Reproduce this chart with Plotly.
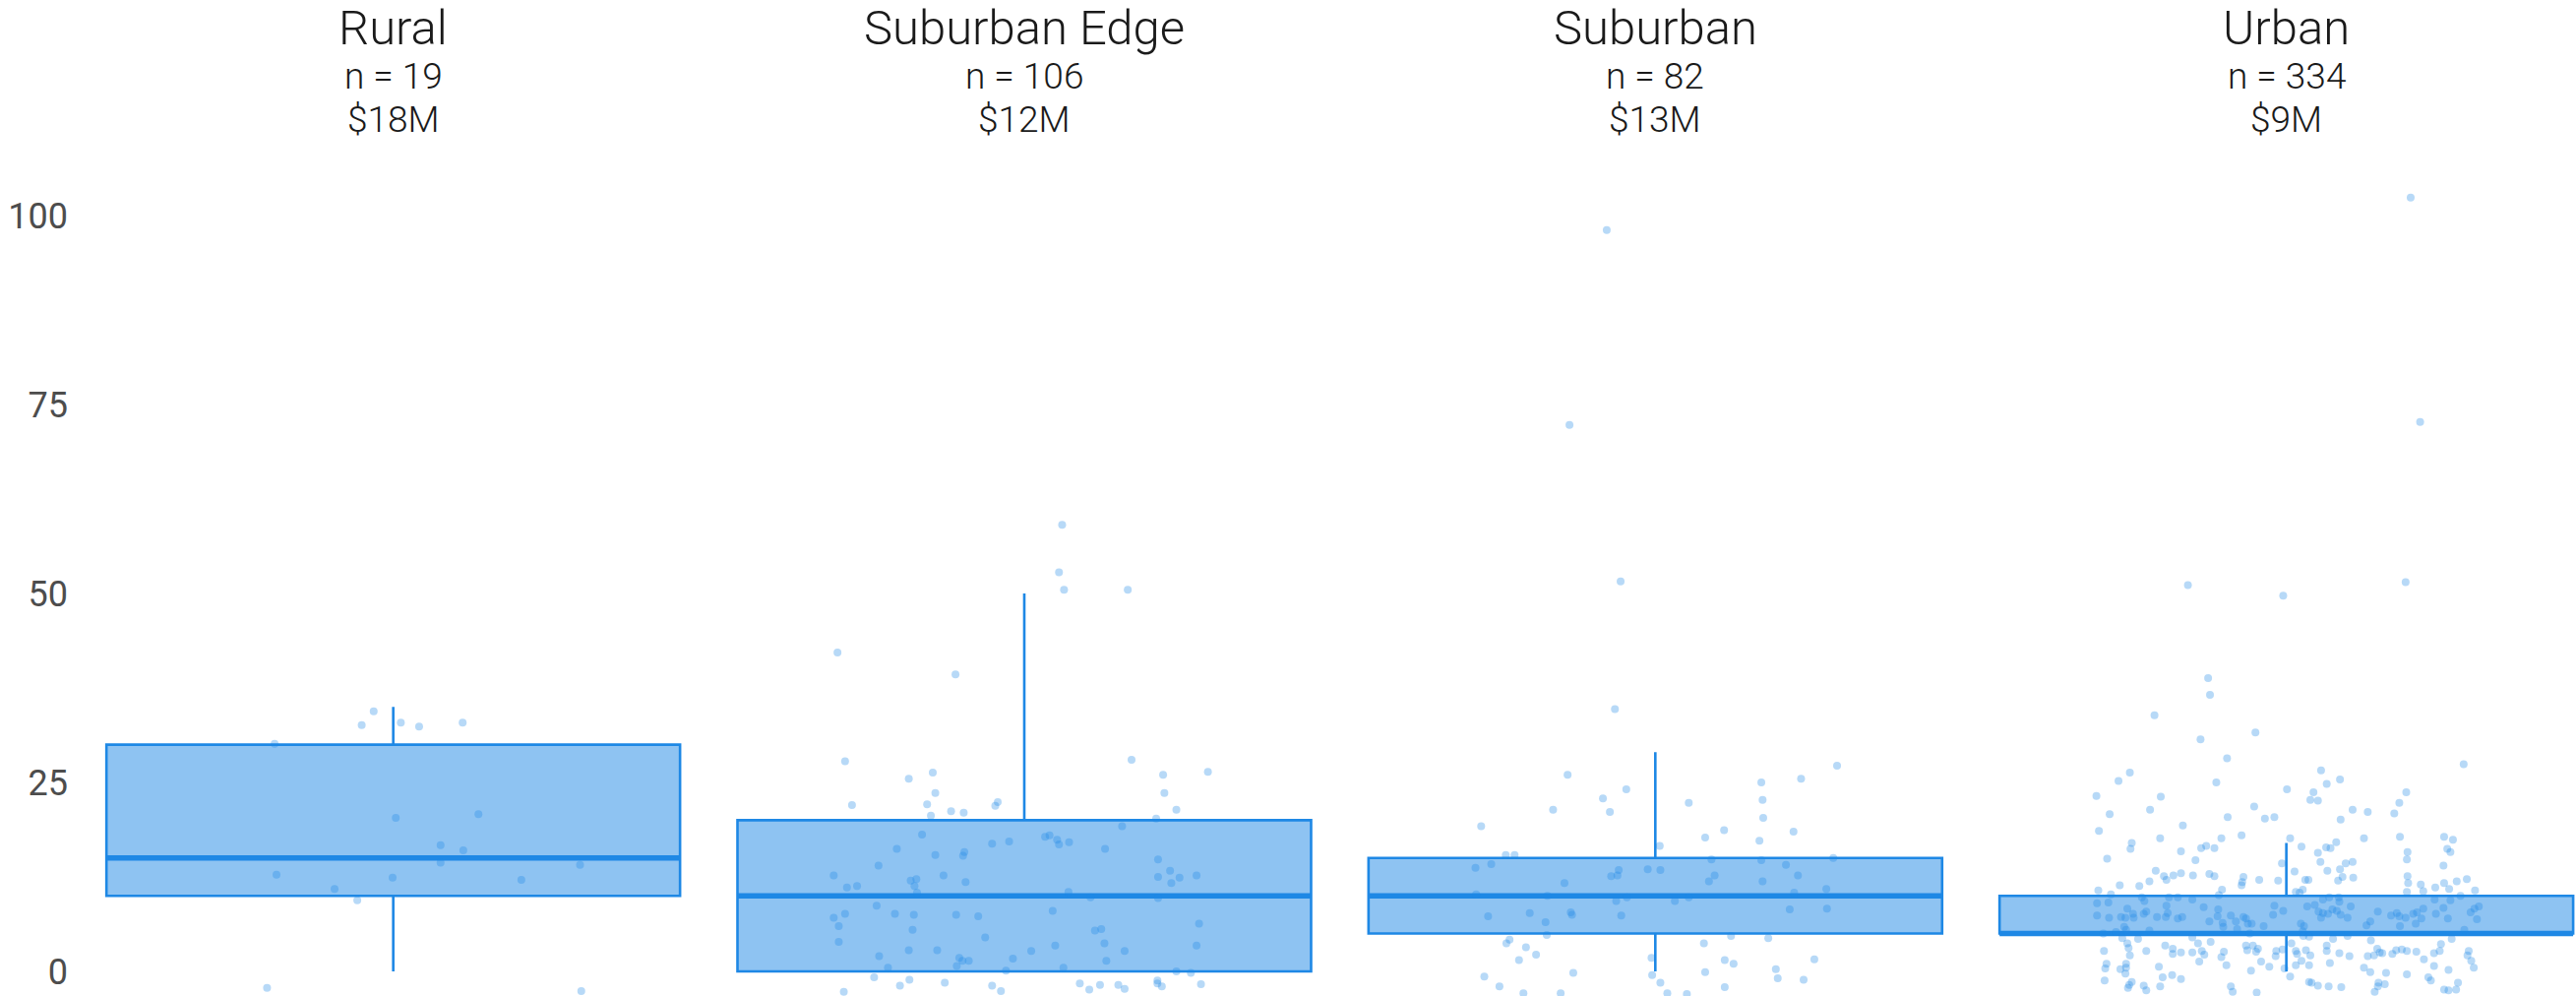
import plotly.graph_objects as go

# ---------------- data ----------------
categories = ["Rural", "Suburban Edge", "Suburban", "Urban"]
counts = [19, 106, 82, 334]
median_cost = ["$18M", "$12M", "$13M", "$9M"]

# box statistics
q1 = [10, 0, 5, 5]
medians = [15, 10, 10, 5]
q3 = [30, 20, 15, 10]
lower_fence = [0, 0, 0, 0]
upper_fence = [35, 50, 29, 17]

# jittered observations: (horizontal jitter offset in category units, value)
rural_points = [
    (-0.031, 34.4), (-0.050, 32.6), (0.012, 32.9), (0.041, 32.4), (0.110, 32.9),
    (-0.188, 30.1), (0.004, 20.3), (0.135, 20.8), (0.075, 16.7), (0.111, 16.0),
    (0.075, 14.4), (0.296, 14.1), (-0.185, 12.8), (-0.001, 12.4), (0.203, 12.1),
    (-0.093, 10.9), (-0.057, 9.4), (-0.200, -2.2), (0.298, -2.6),
]

suburban_edge_points = [
    (0.060, 59.1), (0.055, 52.8), (0.063, 50.5), (0.164, 50.5), (-0.296, 42.2),
    (-0.109, 39.3), (-0.284, 27.8), (0.170, 28.0), (-0.145, 26.3), (-0.183, 25.5),
    (0.220, 26.0), (0.291, 26.4), (-0.141, 23.6), (0.222, 23.6), (-0.273, 22.0),
    (-0.154, 22.1), (-0.042, 22.4), (-0.046, 21.9), (-0.116, 21.2), (-0.096, 21.0),
    (-0.148, 20.6), (0.241, 21.4), (0.209, 20.2), (0.155, 19.2), (-0.162, 18.1),
    (0.033, 17.8), (0.040, 18.0), (0.052, 17.4), (0.055, 16.8), (0.071, 17.1),
    (-0.051, 16.9), (-0.024, 17.2), (-0.202, 16.2), (0.128, 16.2), (-0.141, 15.4),
    (-0.095, 15.8), (-0.097, 15.3), (-0.231, 14.0), (0.212, 14.8), (-0.302, 12.7),
    (0.231, 13.3), (0.212, 12.5), (0.246, 12.4), (0.233, 11.7), (0.273, 12.7),
    (-0.281, 11.1), (-0.265, 11.3), (-0.180, 12.0), (-0.171, 12.2), (-0.174, 11.3),
    (-0.128, 12.7), (-0.093, 11.8), (-0.170, 10.4), (0.070, 10.5), (0.105, 9.8),
    (0.212, 9.7), (-0.234, 8.7), (-0.302, 7.1), (-0.284, 7.6), (-0.294, 6.0),
    (-0.205, 7.6), (-0.175, 7.5), (-0.108, 7.5), (-0.073, 7.3), (0.045, 8.0),
    (-0.177, 5.5), (-0.294, 3.9), (-0.062, 4.5), (0.112, 5.4), (0.122, 5.6),
    (0.277, 6.3), (0.127, 3.7), (0.049, 3.4), (0.011, 2.7), (0.159, 2.7),
    (0.273, 3.4), (-0.230, 2.0), (-0.183, 2.8), (-0.138, 2.8), (-0.103, 1.8),
    (-0.098, 1.4), (-0.088, 1.4), (-0.018, 1.7), (0.130, 1.4), (-0.216, 0.5),
    (-0.107, 0.7), (-0.029, 0.1), (0.062, 0.5), (0.241, 0.0), (0.264, -0.2),
    (-0.238, -0.8), (-0.182, -1.1), (-0.197, -1.9), (-0.126, -1.5), (-0.051, -1.9),
    (-0.037, -2.6), (-0.286, -2.7), (0.088, -1.6), (0.103, -2.4), (0.120, -1.8),
    (0.149, -1.8), (0.159, -2.3), (0.211, -1.2), (0.211, -1.6), (0.218, -2.0),
    (0.280, -1.7),
]

suburban_points = [
    (-0.077, 98.1), (-0.136, 72.3), (-0.055, 51.6), (-0.064, 34.7), (0.288, 27.2),
    (-0.139, 26.0), (0.231, 25.5), (0.168, 25.0), (-0.046, 24.1), (-0.083, 22.9),
    (0.053, 22.3), (0.170, 22.7), (-0.162, 21.4), (-0.072, 21.1), (0.171, 20.3),
    (-0.276, 19.2), (0.109, 18.7), (0.219, 18.5), (0.079, 17.7), (0.165, 17.3),
    (0.007, 16.6), (-0.237, 15.4), (-0.223, 15.4), (0.089, 14.8), (0.168, 14.7),
    (0.282, 15.0), (-0.285, 13.7), (-0.260, 14.2), (-0.058, 13.4), (-0.070, 12.6),
    (-0.060, 12.7), (-0.012, 13.5), (0.008, 13.4), (0.207, 14.1), (0.226, 12.7),
    (0.094, 12.7), (0.085, 11.9), (-0.144, 11.7), (0.170, 11.9), (0.271, 10.9),
    (-0.284, 10.2), (-0.171, 10.0), (-0.045, 9.8), (0.053, 9.8), (0.220, 10.4),
    (-0.062, 9.3), (0.031, 9.3), (-0.265, 7.3), (-0.199, 7.7), (-0.174, 6.5),
    (-0.134, 7.8), (-0.132, 7.5), (-0.054, 7.4), (0.213, 8.2), (0.272, 8.3),
    (-0.172, 4.8), (0.120, 4.7), (0.179, 4.4), (-0.231, 4.2), (-0.236, 3.7),
    (0.077, 3.7), (-0.205, 3.2), (-0.189, 2.2), (-0.216, 1.5), (-0.006, 1.8),
    (0.110, 1.5), (0.124, 1.0), (0.252, 1.6), (0.191, 0.3), (-0.130, -0.2),
    (0.079, -0.1), (-0.005, -0.5), (-0.271, -0.7), (0.194, -0.9), (0.235, -1.1),
    (0.008, -1.5), (-0.247, -2.0), (0.110, -2.1), (-0.209, -2.9), (-0.150, -2.9),
    (0.019, -2.9), (0.050, -3.0),
]

urban_points = [
    (0.197, 102.4), (0.212, 72.7),
    (-0.156, 51.1), (-0.005, 49.7), (0.189, 51.5), (-0.124, 38.8), (-0.121, 36.6),
    (-0.209, 33.9), (-0.049, 31.6), (-0.136, 30.7), (-0.094, 28.2), (-0.248, 26.3),
    (-0.266, 25.2), (-0.111, 25.0), (0.001, 24.1), (-0.301, 23.2), (-0.199, 23.1),
    (-0.216, 21.4), (-0.280, 20.8), (-0.051, 21.8), (-0.093, 20.4), (-0.034, 20.2),
    (-0.019, 20.4), (-0.164, 19.3), (-0.297, 18.6), (-0.200, 17.6), (-0.103, 17.6),
    (-0.071, 18.0), (-0.245, 17.0), (-0.247, 16.2), (-0.167, 15.9), (-0.135, 16.3),
    (-0.127, 16.6), (-0.114, 16.3), (-0.284, 14.9), (-0.144, 14.7), (-0.007, 14.3),
    (-0.207, 13.3), (-0.194, 12.6), (-0.190, 12.1), (-0.179, 12.7), (-0.167, 13.0),
    (-0.148, 12.7), (-0.122, 12.9), (-0.114, 12.6), (-0.068, 12.5), (-0.070, 11.8),
    (-0.071, 11.4), (-0.043, 12.1), (-0.013, 12.0), (-0.217, 11.9), (-0.233, 11.3),
    (-0.264, 11.4), (-0.298, 10.7), (-0.102, 10.8), (-0.107, 10.1), (-0.278, 10.2),
    (-0.300, 9.0), (-0.282, 9.1), (-0.229, 9.8), (-0.225, 9.3), (-0.186, 9.8),
    (-0.172, 9.8), (-0.149, 9.5), (-0.252, 8.3), (-0.190, 8.7), (-0.131, 8.5),
    (-0.108, 8.2), (-0.019, 8.7), (-0.005, 8.0), (-0.300, 7.4), (-0.281, 7.1),
    (-0.262, 7.2), (-0.255, 7.1), (-0.243, 7.6), (-0.242, 7.1), (-0.226, 7.6),
    (-0.222, 7.9), (-0.205, 7.2), (-0.191, 7.2), (-0.188, 7.7), (-0.172, 7.0),
    (-0.165, 7.2), (-0.109, 7.3), (-0.088, 7.4), (-0.068, 7.2), (-0.064, 7.0),
    (-0.021, 7.5), (-0.122, 6.6), (-0.101, 6.4), (-0.080, 6.6), (-0.061, 6.3),
    (-0.055, 6.3), (-0.036, 6.0), (-0.100, 5.9), (-0.257, 5.9), (-0.254, 5.5),
    (-0.078, 5.6), (-0.290, 5.0), (-0.270, 5.2), (-0.217, 5.4), (-0.058, 5.0),
    (-0.260, 4.4), (-0.235, 4.3), (-0.149, 4.5), (-0.252, 3.7), (-0.140, 3.7),
    (-0.120, 3.9), (-0.250, 3.1), (-0.289, 2.7), (-0.222, 2.7), (-0.192, 3.4),
    (-0.180, 3.0), (-0.180, 2.3), (-0.167, 2.5), (-0.149, 2.5), (-0.134, 2.7),
    (-0.130, 2.2), (-0.099, 2.6), (-0.103, 1.9), (-0.064, 3.4), (-0.053, 3.4),
    (-0.062, 2.8), (-0.048, 2.6), (-0.045, 3.0), (-0.016, 2.7), (-0.006, 2.9),
    (-0.017, 2.0), (-0.248, 2.1), (-0.285, 1.0), (-0.254, 1.0), (-0.287, 0.4),
    (-0.263, 0.3), (-0.254, 0.5), (-0.255, -0.3), (-0.138, 1.3), (-0.095, 0.8),
    (-0.202, 0.6), (-0.040, 1.3), (-0.027, 0.6), (-0.056, 0.1), (-0.003, 0.4),
    (-0.288, -1.2), (-0.196, -0.8), (-0.181, -0.5), (-0.167, -1.0), (-0.245, -1.4),
    (-0.249, -1.8), (-0.251, -2.2), (-0.226, -1.9), (-0.222, -2.5), (-0.200, -2.0),
    (-0.088, -2.0), (-0.085, -2.7), (-0.047, -2.8),
    (0.281, 27.4), (0.055, 26.6), (0.085, 25.4), (0.064, 24.8), (0.043, 23.7),
    (0.038, 22.7), (0.050, 22.6), (0.190, 23.7), (0.179, 22.3), (0.171, 20.9),
    (0.105, 21.4), (0.129, 21.1), (0.086, 20.1), (0.006, 17.6), (0.024, 16.5),
    (0.079, 17.1), (0.063, 16.4), (0.070, 16.3), (0.123, 17.6), (0.180, 17.8),
    (0.250, 17.8), (0.264, 17.4), (0.050, 15.7), (0.255, 16.2), (0.260, 15.8),
    (0.192, 15.8), (0.191, 14.8), (0.054, 14.5), (0.094, 14.3), (0.105, 14.5),
    (0.249, 14.0), (0.013, 13.2), (0.065, 13.3), (0.085, 13.5), (0.089, 12.5),
    (0.106, 12.4), (0.192, 12.6), (0.193, 11.7), (0.030, 12.1), (0.035, 12.1),
    (0.082, 12.0), (0.213, 11.5), (0.217, 10.6), (0.236, 11.1), (0.250, 11.7),
    (0.258, 10.9), (0.270, 11.9), (0.286, 12.2), (0.299, 10.7), (0.015, 10.5),
    (0.021, 10.4), (0.026, 10.8), (0.191, 10.5), (0.276, 10.0),
    (0.058, 9.5), (0.068, 9.8), (0.083, 9.8), (0.084, 9.2), (0.235, 9.5),
    (0.260, 9.4), (0.033, 8.6), (0.045, 8.8), (0.102, 8.6), (0.217, 8.3),
    (0.249, 8.4), (0.305, 8.6), (0.298, 8.3), (0.051, 7.9), (0.058, 7.7),
    (0.066, 7.6), (0.073, 8.2), (0.080, 8.0), (0.086, 7.5), (0.097, 7.1),
    (0.055, 7.1), (0.145, 7.9), (0.166, 7.4), (0.175, 7.7), (0.179, 7.3),
    (0.189, 7.1), (0.201, 7.6), (0.207, 7.8), (0.214, 7.0), (0.237, 7.6),
    (0.256, 7.0), (0.292, 7.8), (0.302, 6.9), (0.023, 6.3), (0.028, 6.0),
    (0.127, 6.1), (0.133, 6.6), (0.205, 6.3), (0.180, 6.0), (0.026, 5.3),
    (0.282, 5.5), (0.027, 4.7), (0.036, 4.6), (0.074, 4.3), (0.097, 4.7),
    (0.134, 4.1), (0.262, 4.3), (0.008, 3.7), (0.064, 3.4), (0.245, 3.6),
    (0.015, 2.7), (0.031, 2.8), (0.064, 2.7), (0.084, 2.4), (0.144, 3.0),
    (0.148, 2.5), (0.174, 2.8), (0.183, 2.9), (0.191, 2.7), (0.206, 2.6),
    (0.234, 2.4), (0.243, 2.7), (0.289, 2.7), (0.017, 2.3), (0.038, 2.1),
    (0.100, 2.0), (0.129, 2.0), (0.139, 2.1), (0.152, 2.4), (0.168, 2.3),
    (0.287, 2.1), (0.024, 1.4), (0.069, 1.1), (0.218, 1.6), (0.293, 1.4),
    (0.015, 0.8), (0.036, 0.8), (0.123, 0.5), (0.234, 0.7), (0.297, 0.5),
    (0.257, 0.2), (0.133, -0.1), (0.158, -0.2), (0.191, -0.4), (0.006, -0.7),
    (0.272, -1.5), (0.225, -0.8), (0.229, -1.2), (0.036, -1.4), (0.040, -1.5),
    (0.050, -1.9), (0.067, -2.0), (0.087, -2.1), (0.146, -1.5), (0.156, -1.7),
    (0.145, -2.0), (0.140, -2.7), (0.250, -2.4), (0.257, -2.5), (0.269, -2.4),
]

y_ticks = [0, 25, 50, 75, 100]

# ---------------- style ----------------
BLUE = "#1E88E5"
BOX_FILL = "rgba(30,136,229,0.5)"
POINT_COLOR = "rgba(30,136,229,0.32)"
BOX_WIDTH = 0.909
W, H = 2618, 1012
M_L, M_R, M_T, M_B = 79, 0, 150, 0
TITLE_FONT = "Roboto, 'Helvetica Neue', Arial, sans-serif"
TICK_FONT = "Roboto, 'Helvetica Neue', Arial, sans-serif"

groups = [rural_points, suburban_edge_points, suburban_points, urban_points]

fig = go.Figure()

for i, cat in enumerate(categories):
    fig.add_trace(go.Box(
        x=[i], q1=[q1[i]], median=[medians[i]], q3=[q3[i]],
        lowerfence=[lower_fence[i]], upperfence=[upper_fence[i]],
        width=BOX_WIDTH, whiskerwidth=0, boxpoints=False,
        fillcolor=BOX_FILL, line=dict(color=BLUE, width=2.6),
        showlegend=False, hoverinfo="skip", name=cat,
    ))
    # thicker median bar
    fig.add_trace(go.Scatter(
        x=[i - BOX_WIDTH / 2, i + BOX_WIDTH / 2], y=[medians[i], medians[i]],
        mode="lines", line=dict(color=BLUE, width=5.5),
        showlegend=False, hoverinfo="skip",
    ))

for i, pts in enumerate(groups):
    fig.add_trace(go.Scatter(
        x=[i + dx for dx, _ in pts], y=[v for _, v in pts],
        mode="markers",
        marker=dict(size=8, color=POINT_COLOR, line=dict(width=0)),
        showlegend=False, hoverinfo="skip",
    ))

plot_h = H - M_T - M_B


def paper_y(px):
    return (H - M_B - px) / plot_h


annotations = []
for i, cat in enumerate(categories):
    annotations.append(dict(x=i, y=paper_y(29), xref="x", yref="paper", text=cat,
                            showarrow=False, yanchor="middle",
                            font=dict(family=TITLE_FONT, size=49, color="#1a1a1a", weight=300)))
    annotations.append(dict(x=i, y=paper_y(77), xref="x", yref="paper", text=f"n = {counts[i]}",
                            showarrow=False, yanchor="middle",
                            font=dict(family=TITLE_FONT, size=37, color="#1a1a1a", weight=300)))
    annotations.append(dict(x=i, y=paper_y(121), xref="x", yref="paper", text=median_cost[i],
                            showarrow=False, yanchor="middle",
                            font=dict(family=TITLE_FONT, size=37, color="#1a1a1a", weight=300)))

fig.update_layout(
    width=W, height=H,
    margin=dict(l=M_L, r=M_R, t=M_T, b=M_B, pad=0),
    paper_bgcolor="white", plot_bgcolor="white",
    showlegend=False,
    annotations=annotations,
    xaxis=dict(range=[-0.5, 3.459], showticklabels=False, showgrid=False,
               zeroline=False, showline=False, ticks=""),
    yaxis=dict(range=[-3.26, 109], tickvals=y_ticks, showgrid=False, zeroline=False,
               showline=False, ticks="", ticklabelstandoff=9,
               tickfont=dict(family=TICK_FONT, size=36, color="#4d4d4d")),
)

fig.write_html(
    "out.html",
    config={"displayModeBar": False},
    post_script="document.body.style.margin='0';document.body.style.overflow='hidden';",
)
